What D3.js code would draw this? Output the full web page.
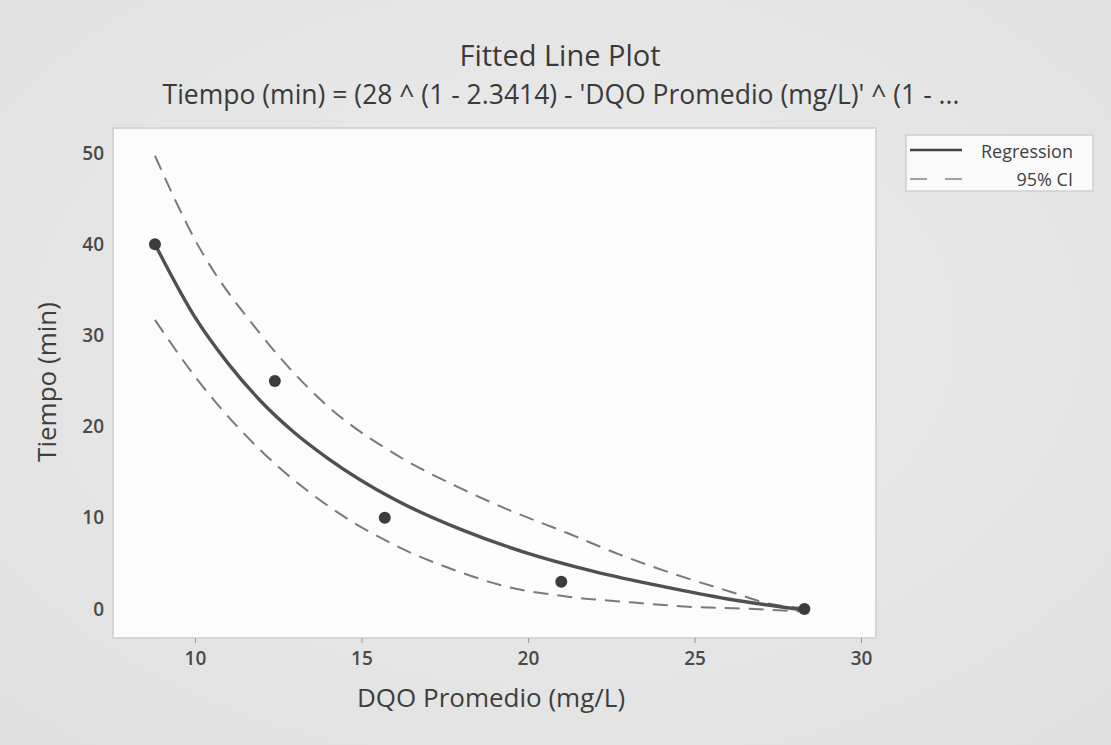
<!DOCTYPE html>
<html>
<head>
<meta charset="utf-8">
<script src="https://cdn.jsdelivr.net/npm/d3@7"></script>
<style>
  html, body { margin: 0; padding: 0; background: #e7e7e7; }
  svg { display: block; }
  text { font-family: "Open Sans", "Noto Sans", sans-serif; }
</style>
</head>
<body>
<svg id="chart" width="1111" height="745"></svg>
<script>
// Observed data: DQO Promedio (mg/L) vs Tiempo (min)
const dqo = [8.8, 12.4, 15.7, 21.0, 28.3];
const tiempo = [40, 25, 10, 3, 0];

// Fitted regression curve, sampled along DQO
const fitX = [8.8, 10, 11, 12, 13, 14, 16, 18, 20, 22, 24, 26, 28.3];
const fitY = [40, 32, 26.9, 22.7, 19.3, 16.5, 12.0, 8.7, 6.1, 4.1, 2.5, 1.1, -0.1];

// 95% confidence band
const ciUpperX = [8.8, 10, 12, 14, 16, 18, 19.4, 21.2, 22.8, 24.5, 26.2, 27.1, 28.3];
const ciUpperY = [49.7, 40.5, 30.0, 22.2, 17.0, 13.2, 10.9, 8.3, 5.9, 3.7, 1.75, 0.7, 0.1];
const ciLowerX = [8.8, 10, 12, 14, 16, 18, 19.2, 21.2, 23.2, 24.8, 26.8, 28.3];
const ciLowerY = [31.7, 25.5, 17.3, 11.3, 7.0, 4.0, 2.6, 1.35, 0.7, 0.25, 0.0, -0.3];

const xTicks = [10, 15, 20, 25, 30];
const yTicks = [0, 10, 20, 30, 40, 50];

const title = "Fitted Line Plot";
const subtitle = "Tiempo (min) = (28 ^ (1 - 2.3414) - 'DQO Promedio (mg/L)' ^ (1 - ...";
const xTitle = "DQO Promedio (mg/L)";
const yTitle = "Tiempo (min)";
const legendLabels = ["Regression", "95% CI"];

const svg = d3.select("#chart");
const W = 1111, H = 745;
const plot = { left: 113, right: 876, top: 128, bottom: 638 };

// Soft gray page background
const defs = svg.append("defs");
const bg = defs.append("radialGradient").attr("id", "bgGrad")
  .attr("cx", "50%").attr("cy", "45%").attr("r", "75%");
bg.append("stop").attr("offset", "0%").attr("stop-color", "#ececec");
bg.append("stop").attr("offset", "100%").attr("stop-color", "#e0e0e0");
svg.append("rect").attr("width", W).attr("height", H).attr("fill", "url(#bgGrad)");

const x = d3.scaleLinear().domain([7.54, 30.45]).range([plot.left, plot.right]);
const y = d3.scaleLinear().domain([-3.18, 52.74]).range([plot.bottom, plot.top]);

// Plot area
svg.append("rect")
  .attr("x", plot.left).attr("y", plot.top)
  .attr("width", plot.right - plot.left).attr("height", plot.bottom - plot.top)
  .attr("fill", "#fcfcfc").attr("stroke", "#d6d6d6").attr("stroke-width", 2);

// Axes
const xAxis = svg.append("g").attr("transform", `translate(0,${plot.bottom})`)
  .call(d3.axisBottom(x).tickValues(xTicks).tickSize(5).tickPadding(9));
const yAxis = svg.append("g").attr("transform", `translate(${plot.left},0)`)
  .call(d3.axisLeft(y).tickValues(yTicks).tickSize(0).tickPadding(9));
[xAxis, yAxis].forEach(g => {
  g.select(".domain").remove();
  g.selectAll(".tick line").attr("stroke", "#9a9a9a");
  g.selectAll(".tick text").attr("fill", "#4a4a4a")
    .style("font-size", "19px").style("font-weight", "600");
});

// Titles
svg.append("text").attr("x", 560).attr("y", 66).attr("text-anchor", "middle")
  .attr("fill", "#3a3a3a").style("font-size", "29px").text(title);
svg.append("text").attr("x", 561).attr("y", 104).attr("text-anchor", "middle")
  .attr("fill", "#3a3a3a").style("font-size", "26.5px").text(subtitle);
svg.append("text").attr("x", 491).attr("y", 707).attr("text-anchor", "middle")
  .attr("fill", "#3e3e3e").style("font-size", "26px").text(xTitle);
svg.append("text").attr("transform", "translate(56,382) rotate(-90)")
  .attr("text-anchor", "middle").attr("fill", "#3e3e3e")
  .style("font-size", "26px").text(yTitle);

// Curves
const line = d3.line().x(d => x(d[0])).y(d => y(d[1])).curve(d3.curveMonotoneX);
const zip = (a, b) => a.map((v, i) => [v, b[i]]);

svg.append("path").datum(zip(ciUpperX, ciUpperY)).attr("d", line)
  .attr("fill", "none").attr("stroke", "#7a7a7a").attr("stroke-width", 2)
  .attr("stroke-dasharray", "15,9");
svg.append("path").datum(zip(ciLowerX, ciLowerY)).attr("d", line)
  .attr("fill", "none").attr("stroke", "#7a7a7a").attr("stroke-width", 2)
  .attr("stroke-dasharray", "15,9");
svg.append("path").datum(zip(fitX, fitY)).attr("d", line)
  .attr("fill", "none").attr("stroke", "#505050").attr("stroke-width", 3.4);

// Observations
svg.append("g").selectAll("circle").data(zip(dqo, tiempo)).join("circle")
  .attr("cx", d => x(d[0])).attr("cy", d => y(d[1])).attr("r", 6)
  .attr("fill", "#3c3c3c");

// Legend
const lg = svg.append("g");
lg.append("rect").attr("x", 906).attr("y", 135).attr("width", 187).attr("height", 56)
  .attr("fill", "#fafafa").attr("stroke", "#d0d0d0").attr("stroke-width", 1.5);
lg.append("line").attr("x1", 910).attr("x2", 962).attr("y1", 150).attr("y2", 150)
  .attr("stroke", "#444").attr("stroke-width", 2.5);
lg.append("line").attr("x1", 910).attr("x2", 962).attr("y1", 179).attr("y2", 179)
  .attr("stroke", "#a0a0a0").attr("stroke-width", 2).attr("stroke-dasharray", "17,18");
lg.selectAll("text.lab").data(legendLabels).join("text").attr("class", "lab")
  .attr("x", 1073).attr("y", (d, i) => 158 + i * 28).attr("text-anchor", "end")
  .attr("fill", "#404040").style("font-size", "18px").text(d => d);
</script>
</body>
</html>
